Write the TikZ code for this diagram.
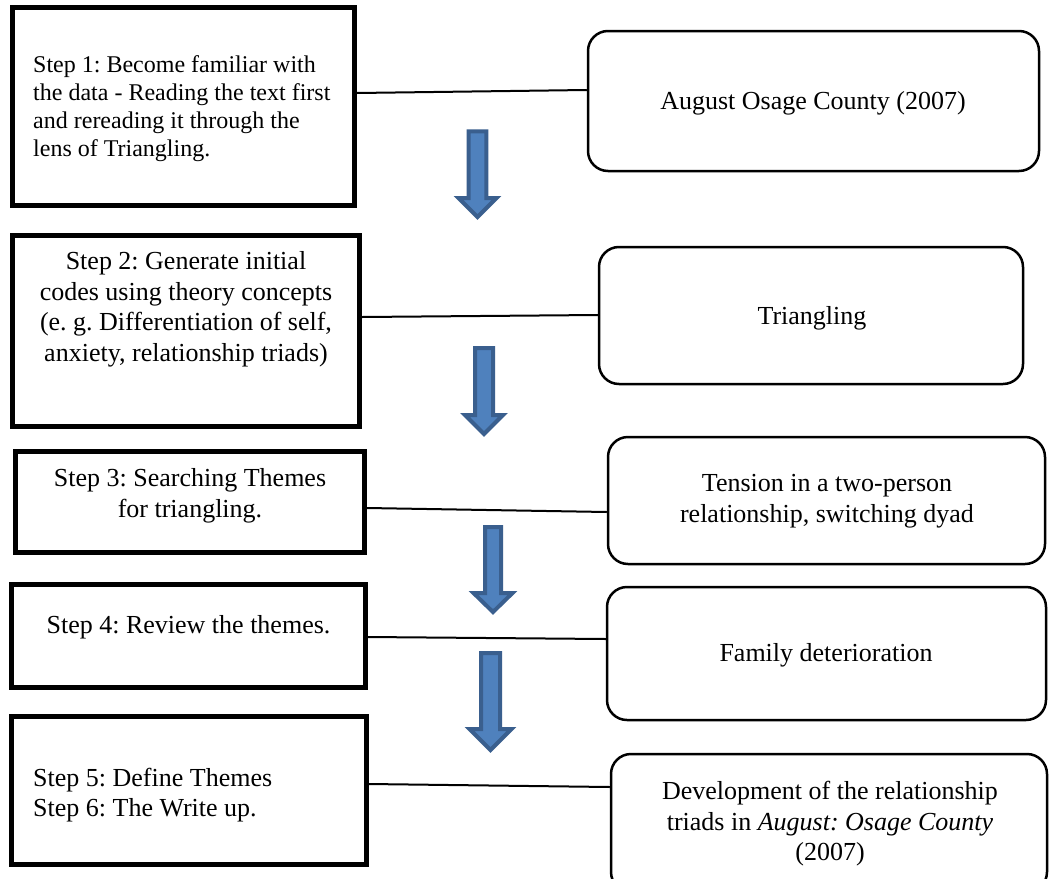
\documentclass[tikz,border=0pt]{standalone}
\usepackage{fontspec}
\setmainfont{Liberation Serif}
\frenchspacing
\definecolor{arrfill}{HTML}{4F81BD}
\definecolor{arrline}{HTML}{3A5F8E}
\newcommand{\blockarr}[6]{% cx, shaft half, head half, top, head y, tip
  \draw[barrow] ({#1-#2},#4) -- ({#1+#2},#4) -- ({#1+#2},#5) -- ({#1+#3},#5)
    -- (#1,#6) -- ({#1-#3},#5) -- ({#1-#2},#5) -- cycle;}
\begin{document}
\begin{tikzpicture}[x=1pt,y=-1pt,
  stepbox/.style={draw=black, line width=5pt, fill=white, inner sep=0pt},
  themebox/.style={draw=black, line width=2.5pt, fill=white, rounded corners=20pt, inner sep=0pt},
  txt/.style={inner sep=0pt, font=\fontsize{26}{30.5}\selectfont},
  link/.style={draw=black, line width=2pt},
  barrow/.style={draw=arrline, fill=arrfill, line width=4pt, line join=miter}]
\useasboundingbox (0,0) rectangle (1049,878);
\clip (0,0) rectangle (1049,878);
\fill[white] (0,0) rectangle (1049,878);

% step boxes
\node[stepbox, minimum width=342pt, minimum height=198pt] (s1) at (183.5,106.5) {};
\node[stepbox, minimum width=347pt, minimum height=191pt] (s2) at (186,331) {};
\node[stepbox, minimum width=349pt, minimum height=101pt] (s3) at (190,502) {};
\node[stepbox, minimum width=354pt, minimum height=103pt] (s4) at (188.5,636) {};
\node[stepbox, minimum width=355pt, minimum height=148pt] (s5) at (189,790.5) {};

% theme boxes
\node[themebox, minimum width=451pt, minimum height=140pt] (r1) at (813.5,101) {};
\node[themebox, minimum width=424pt, minimum height=137pt] (r2) at (811,315.5) {};
\node[themebox, minimum width=437pt, minimum height=127pt] (r3) at (826.5,500.5) {};
\node[themebox, minimum width=439pt, minimum height=133pt] (r4) at (826.5,653.5) {};
\node[themebox, minimum width=436pt, minimum height=138pt] (r5) at (829,823) {};

% texts
\node[inner sep=0pt, anchor=west, align=left, font=\fontsize{24}{28}\selectfont] (t1) at (33,109)
  {Step 1: Become familiar with\\the data - Reading the text first\\and rereading it through the\\lens of Triangling.};
\node[txt, align=center] (t2) at (186,309.5)
  {Step 2: Generate initial\\codes using theory concepts\\(e. g. Differentiation of self,\\anxiety, relationship triads)};
\node[txt, align=center] (t3) at (190,496) {Step 3: Searching Themes\\for triangling.};
\node[txt, align=center] (t4) at (188.5,627) {Step 4: Review the themes.};
\node[txt, anchor=west, align=left] (t5) at (33,795) {Step 5: Define Themes\\Step 6: The Write up.};

\node[txt] (u1) at (813,103) {August Osage County (2007)};
\node[txt] (u2) at (812,318) {Triangling};
\node[txt, align=center] (u3) at (827,501) {Tension in a two-person\\relationship, switching dyad};
\node[txt] (u4) at (826,655) {Family deterioration};
\node[txt, align=center] (u5) at (830,824)
  {Development of the relationship\\triads in \textit{August: Osage County}\\(2007)};

% connectors
\draw[link] ([yshift=13.5pt]s1.east) -- ([yshift=11pt]r1.west);
\draw[link] ([yshift=14pt]s2.east) -- ([yshift=0.5pt]r2.west);
\draw[link] ([yshift=-6pt]s3.east) -- ([yshift=-11.5pt]r3.west);
\draw[link] ([yshift=-1pt]s4.east) -- ([yshift=14.5pt]r4.west);
\draw[link] ([yshift=6.5pt]s5.east) -- ([yshift=36pt]r5.west);

% block arrows
\blockarr{477.5}{8.8}{19}{131.3}{198}{217}
\blockarr{484}{9}{19}{348}{415}{434}
\blockarr{493}{8}{19.5}{527}{593}{612}
\blockarr{490.5}{9.5}{21}{653}{729}{750}
\end{tikzpicture}
\end{document}
